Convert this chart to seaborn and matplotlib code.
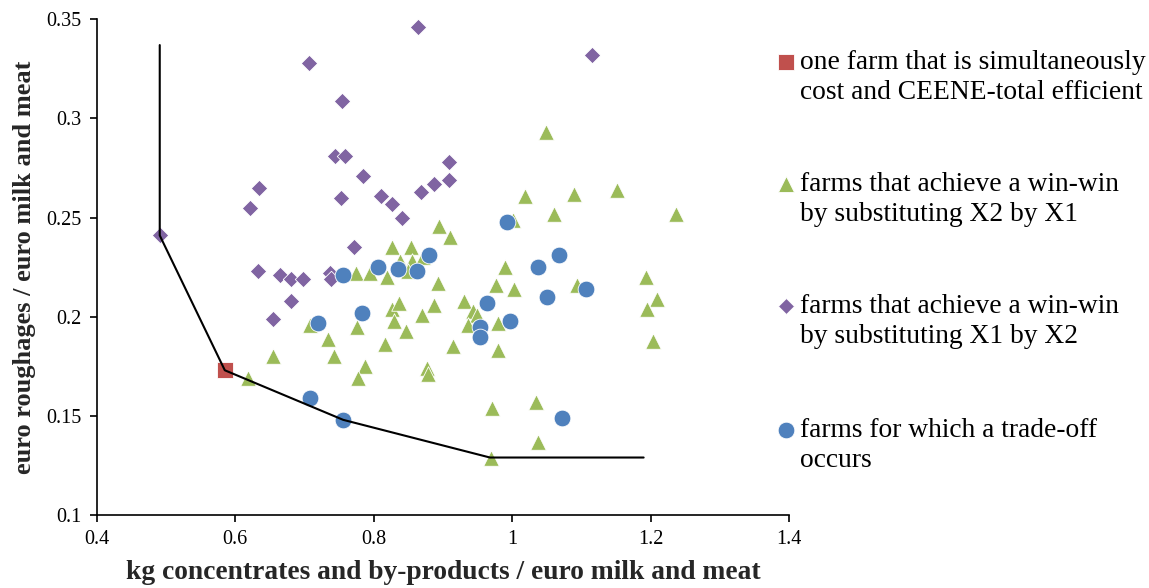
import matplotlib
matplotlib.use("Agg")
import matplotlib.pyplot as plt
import seaborn as sns
from matplotlib.lines import Line2D
from matplotlib.ticker import FuncFormatter

# Farm coordinates: kg concentrates per euro output (x) vs euro roughages per euro output (y)
efficient_x = [0.585]
efficient_y = [0.173]

winwin_x2x1_x = [0.619, 0.654, 0.708, 0.734, 0.742, 0.776, 0.788, 0.777, 0.816, 0.826,
                 0.836, 0.830, 0.847, 0.870, 0.877, 0.879, 0.887, 0.930, 0.944, 0.950,
                 0.937, 0.914, 0.979, 0.979, 0.971, 1.034, 1.037, 0.969, 0.977, 1.003,
                 0.990, 0.894, 0.911, 0.893, 1.018, 1.049, 1.060, 1.002, 1.089, 1.151,
                 1.237, 1.193, 1.094, 1.209, 1.195, 1.204, 0.826, 0.854, 0.838, 0.855,
                 0.871, 0.775, 0.795, 0.819, 0.850]
winwin_x2x1_y = [0.169, 0.180, 0.196, 0.189, 0.180, 0.195, 0.175, 0.169, 0.186, 0.204,
                 0.207, 0.198, 0.193, 0.201, 0.174, 0.171, 0.206, 0.208, 0.203, 0.201,
                 0.196, 0.185, 0.197, 0.183, 0.154, 0.157, 0.137, 0.129, 0.216, 0.214,
                 0.225, 0.246, 0.240, 0.217, 0.261, 0.293, 0.252, 0.249, 0.262, 0.264,
                 0.252, 0.220, 0.216, 0.209, 0.204, 0.188, 0.235, 0.235, 0.228, 0.228,
                 0.230, 0.222, 0.222, 0.220, 0.223]

winwin_x1x2_x = [0.491, 0.707, 0.864, 0.754, 0.744, 0.758, 0.784, 0.634, 0.621, 0.753,
                 0.810, 0.827, 0.841, 0.868, 0.887, 0.771, 0.633, 0.665, 0.680, 0.698,
                 0.737, 0.738, 0.681, 0.654, 1.115, 0.909, 0.909]
winwin_x1x2_y = [0.241, 0.328, 0.346, 0.309, 0.281, 0.281, 0.271, 0.265, 0.255, 0.260,
                 0.261, 0.257, 0.250, 0.263, 0.267, 0.235, 0.223, 0.221, 0.219, 0.219,
                 0.222, 0.219, 0.208, 0.199, 0.332, 0.278, 0.269]

tradeoff_x = [0.708, 0.755, 0.720, 0.783, 0.755, 0.806, 0.835, 0.862, 0.880, 0.993,
              1.038, 1.068, 1.051, 0.964, 0.953, 0.954, 0.997, 1.072, 1.107]
tradeoff_y = [0.159, 0.148, 0.197, 0.202, 0.221, 0.225, 0.224, 0.223, 0.231, 0.248,
              0.225, 0.231, 0.210, 0.207, 0.195, 0.190, 0.198, 0.149, 0.214]

# Efficiency frontier
frontier_x = [0.491, 0.491, 0.585, 0.756, 0.968, 1.190]
frontier_y = [0.337, 0.241, 0.173, 0.148, 0.129, 0.129]

labels = [
    "one farm that is simultaneously\ncost and CEENE-total efficient",
    "farms that achieve a win-win\nby substituting X2 by X1",
    "farms that achieve a win-win\nby substituting X1 by X2",
    "farms for which a trade-off\noccurs",
]

x_ticks = [0.4, 0.6, 0.8, 1.0, 1.2, 1.4]
y_ticks = [0.1, 0.15, 0.2, 0.25, 0.3, 0.35]

RED, GREEN, PURPLE, BLUE = "#C0504D", "#9BBB59", "#8064A2", "#4F81BD"

sns.set_style("ticks")
plt.rcParams["font.family"] = ["Liberation Serif", "DejaVu Serif"]

W, H = 1149, 588
fig = plt.figure(figsize=(W / 100, H / 100), dpi=100)
ax = fig.add_axes([0.0842, 0.1241, 0.6025, 0.8431])

groups = [
    (winwin_x2x1_x, winwin_x2x1_y, "^", GREEN, 125, 2),
    (winwin_x1x2_x, winwin_x1x2_y, "D", PURPLE, 70, 3),
    (tradeoff_x, tradeoff_y, "o", BLUE, 145, 4),
    (efficient_x, efficient_y, "s", RED, 125, 5),
]
for gx, gy, mk, col, size, z in groups:
    sns.scatterplot(x=gx, y=gy, marker=mk, color=col, s=size, edgecolor="white",
                    linewidth=0.6, ax=ax, zorder=z, legend=False)

sns.lineplot(x=frontier_x, y=frontier_y, sort=False, estimator=None, color="black",
             linewidth=1.5, ax=ax, zorder=6)

ax.set_xlim(0.4, 1.4)
ax.set_ylim(0.1, 0.35)
ax.set_xticks(x_ticks)
ax.set_yticks(y_ticks)
ax.xaxis.set_major_formatter(FuncFormatter(lambda v, p: f"{v:g}"))
ax.yaxis.set_major_formatter(FuncFormatter(lambda v, p: f"{v:g}"))
ax.tick_params(axis="both", direction="out", length=5, width=1.2, labelsize=14.5,
               color="black", labelcolor="black", pad=6)
for side in ["top", "right"]:
    ax.spines[side].set_visible(False)
for side in ["left", "bottom"]:
    ax.spines[side].set_color("black")
    ax.spines[side].set_linewidth(1.2)

ax.set_xlabel("kg concentrates and by-products / euro milk and meat",
              fontsize=19.8, fontweight="bold", labelpad=8)
ax.set_ylabel("euro roughages / euro milk and meat",
              fontsize=19, fontweight="bold", labelpad=7)

# Legend: one marker beside the first line of each two-line description
legend_markers = [("s", RED, 11), ("^", GREEN, 11.5), ("D", PURPLE, 8.5), ("o", BLUE, 12)]
first_line_px = [62, 184, 306, 430]
for (mk, col, ms), label, ypx in zip(legend_markers, labels, first_line_px):
    fig.add_artist(Line2D([786 / W], [1 - ypx / H], transform=fig.transFigure,
                          linestyle="", marker=mk, markersize=ms, color=col,
                          markeredgecolor="white", markeredgewidth=0.6))
    fig.text(800 / W, 1 - (ypx + 15.5) / H, label, fontsize=19.8, va="center",
             ha="left", linespacing=1.24, color="black")

fig.savefig("out.png", dpi=100)
